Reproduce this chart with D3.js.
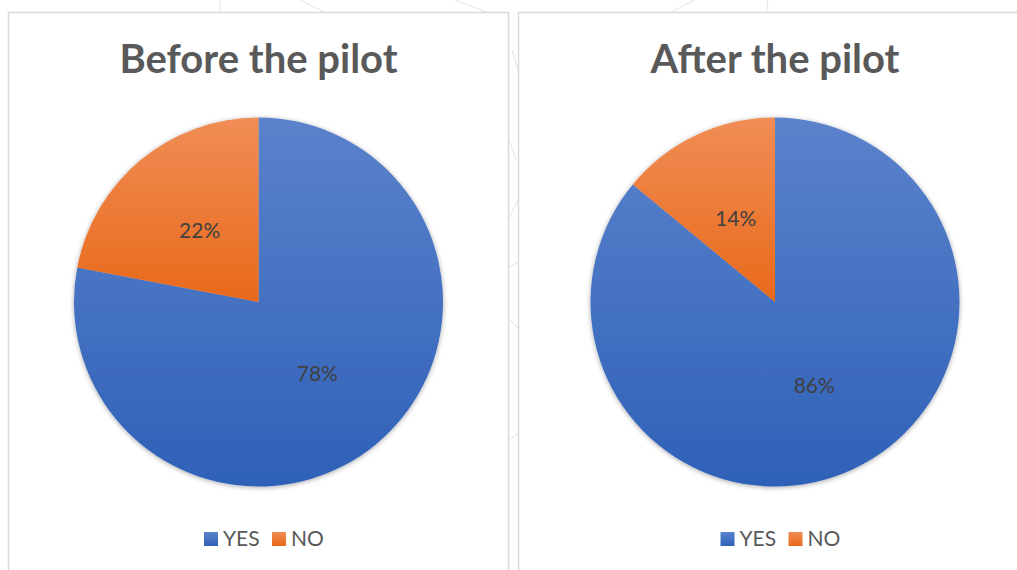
<!DOCTYPE html>
<html>
<head>
<meta charset="utf-8">
<script src="https://cdn.jsdelivr.net/npm/d3@7"></script>
<style>
  html, body { margin: 0; padding: 0; background: #fff; }
  svg { display: block; font-family: Lato, "Open Sans", sans-serif; }
</style>
</head>
<body>
<svg id="canvas"></svg>
<script>
const width = 1017;
const height = 570;

// data
const categories = ["YES", "NO"];
const titles = ["Before the pilot", "After the pilot"];
const beforeValues = [78, 22];
const afterValues = [86, 14];

const colors = {
  YES: ["#5b82cb", "#2e61b8"],
  NO: ["#f08d55", "#e8691a"]
};

const svg = d3.select("#canvas").attr("width", width).attr("height", height);
const defs = svg.append("defs");

// slice gradients (light at top, dark at bottom)
categories.forEach((c) => {
  const g = defs
    .append("linearGradient")
    .attr("id", "grad-" + c)
    .attr("x1", 0)
    .attr("y1", 0)
    .attr("x2", 0)
    .attr("y2", 1);
  g.append("stop").attr("offset", "0%").attr("stop-color", colors[c][0]);
  g.append("stop").attr("offset", "100%").attr("stop-color", colors[c][1]);
});

const shadow = defs
  .append("filter")
  .attr("id", "shadow")
  .attr("x", "-10%")
  .attr("y", "-10%")
  .attr("width", "120%")
  .attr("height", "120%");
shadow
  .append("feDropShadow")
  .attr("dx", 0)
  .attr("dy", 1)
  .attr("stdDeviation", 2.5)
  .attr("flood-color", "#000")
  .attr("flood-opacity", 0.35);

// faint background decoration lines
const bgLines = [
  [220, 0, 220, 14],
  [300, 0, 328, 14],
  [455, 0, 492, 14],
  [694, 0, 668, 14],
  [768, 0, 766, 14],
  [512, 50, 518, 70],
  [509, 140, 516, 160],
  [508, 220, 518, 200],
  [508, 268, 518, 262],
  [508, 318, 518, 328],
  [508, 440, 518, 434]
];
svg
  .append("g")
  .selectAll("line")
  .data(bgLines)
  .enter()
  .append("line")
  .attr("x1", (d) => d[0])
  .attr("y1", (d) => d[1])
  .attr("x2", (d) => d[2])
  .attr("y2", (d) => d[3])
  .attr("stroke", "#dbe5ea")
  .attr("stroke-width", 1);

const panels = [
  { x: 8, cx: 250.5, title: titles[0], values: beforeValues },
  { x: 518, cx: 257, title: titles[1], values: afterValues }
];
const panelWidth = 500;
const radius = 184.5;

const pie = d3
  .pie()
  .sort(null)
  .value((d) => d.value);

const arc = d3.arc().innerRadius(0).outerRadius(radius);

panels.forEach((p) => {
  const g = svg.append("g").attr("transform", `translate(${p.x}, 12)`);

  g.append("rect")
    .attr("x", 0.5)
    .attr("y", 0.5)
    .attr("width", panelWidth)
    .attr("height", height)
    .attr("fill", "#fff")
    .attr("stroke", "#d9d9d9")
    .attr("stroke-width", 1.5);

  const cx = p.cx;

  g.append("text")
    .attr("x", cx)
    .attr("y", 61)
    .attr("text-anchor", "middle")
    .attr("font-weight", "bold")
    .attr("font-size", "40px")
    .attr("fill", "#595959")
    .text(p.title);

  const data = categories.map((c, i) => ({ name: c, value: p.values[i] }));
  const arcs = pie(data);

  const chart = g.append("g").attr("transform", `translate(${cx}, 290)`);

  chart
    .append("g")
    .attr("filter", "url(#shadow)")
    .selectAll("path")
    .data(arcs)
    .enter()
    .append("path")
    .attr("d", arc)
    .attr("fill", (d) => `url(#grad-${d.data.name})`);

  chart
    .selectAll(".label")
    .data(arcs)
    .enter()
    .append("text")
    .attr("class", "label")
    .attr("transform", (d) => `translate(${arc.centroid(d)})`)
    .attr("text-anchor", "middle")
    .attr("dy", "0.36em")
    .attr("font-size", "21px")
    .attr("fill", "#404040")
    .text((d) => d.data.value + "%");

  // legend
  const legend = g.append("g").attr("transform", `translate(${cx - 54.5}, 520)`);
  const items = legend
    .selectAll("g")
    .data(categories)
    .enter()
    .append("g")
    .attr("transform", (d, i) => `translate(${i * 68}, 0)`);

  items
    .append("rect")
    .attr("x", 0)
    .attr("y", 0)
    .attr("width", 14)
    .attr("height", 14)
    .attr("fill", (d) => `url(#grad-${d})`);

  items
    .append("text")
    .attr("x", 19)
    .attr("y", 13.5)
    .attr("font-size", "21px")
    .attr("fill", "#595959")
    .text((d) => d);
});
</script>
</body>
</html>
